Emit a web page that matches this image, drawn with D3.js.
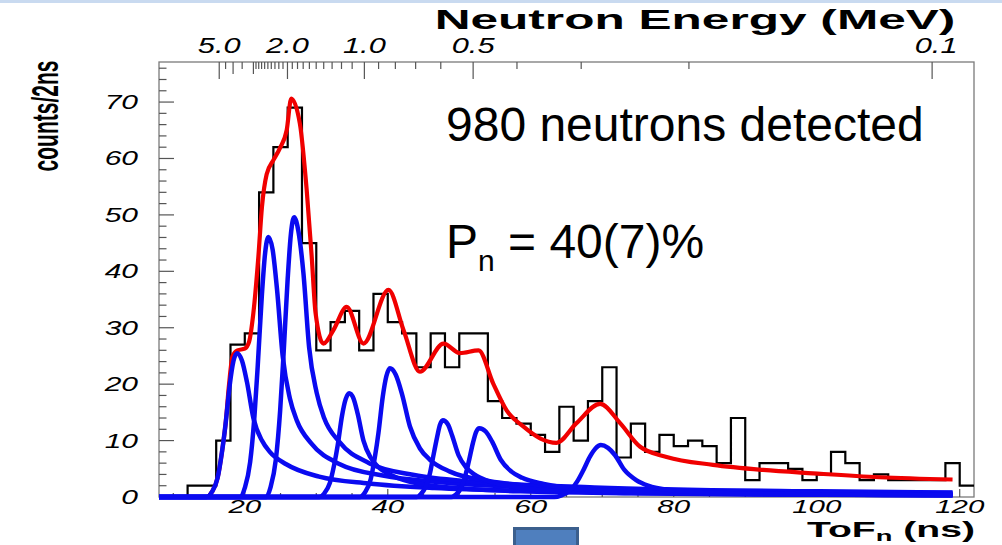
<!DOCTYPE html>
<html><head><meta charset="utf-8">
<script src="https://cdn.jsdelivr.net/npm/d3@7"></script>
<style>html,body{margin:0;padding:0;background:#fff;} svg{display:block;}</style>
</head><body>
<svg id="chart" width="1002" height="545"></svg>
<script>
// ---------------- DATA ----------------
const binLow = 8, binWidth = 2;            // ns, first bin edge and width
const counts = [0,0,2,2,10,27,29,54,62,69,45,26,31,33,26,36,31,29,23,29,23,29,29,17,14,13,11,8,16,10,17,23,7,13,8,11,9,10,9,6,14,3,6,6,5,3,4,8,6,3,4,3,3,3,3,6,2];

// total fit (red), [ToF ns, counts]
const fitTotal = [[8,0],[14.7,0],[15.4,0.9],[16.2,3.4],[16.8,7.9],[17.3,12.8],[17.8,20],[18.3,25],[19,26],[20,26.3],[20.6,27.5],[21.2,32.6],[21.9,42.6],[22.4,51.4],[23.06,57.2],[24.0,59.7],[24.9,61.8],[25.86,65],[26.5,70.6],[27.7,66.2],[28.66,54.4],[29.36,42.6],[29.9,32.6],[31.0,27.2],[32.4,29.6],[34.25,33.7],[36.6,27.2],[40.1,36.7],[42.2,29.6],[44.5,22.2],[47.8,27.2],[50.1,25.5],[52.7,26],[54.75,20.1],[56.6,15.4],[58.95,12.5],[61.3,10.4],[63.6,9.6],[66.4,13.1],[69.7,16.5],[72.5,13.1],[75.3,8.9],[79,7.1],[85.5,5.7],[92.5,4.8],[99.5,4.2],[108.8,3.5],[119,3.1]];

// individual transition components (blue), [ToF ns, counts]
const comp1 = [[8,0],[14.7,0],[15.4,0.9],[16.2,3.4],[16.8,7.9],[17.3,12.8],[17.9,19.9],[18.4,24.0],[18.9,25.5],[19.6,24.2],[20.3,20.4],[21.2,14.0],[22.4,10.0],[23.5,8.0],[25.8,5.8],[30.4,3.6],[37.3,2.4],[46.5,1.6],[64.9,1.0],[99.4,0.6],[119,0.45]];
const comp2 = [[8,0],[19.4,0],[20.0,1.6],[20.75,6.2],[21.35,14.3],[21.8,23],[22.4,36],[22.85,43.3],[23.3,46.1],[23.9,43.8],[24.5,36.9],[25.3,25],[26.3,17.5],[27.3,13.5],[29.3,9.5],[33.3,5.8],[39.3,3.8],[47.3,2.6],[63.3,1.6],[93.3,0.95],[119,0.7]];
const comp3 = [[8,0],[23.0,0],[23.6,1.7],[24.35,6.7],[24.95,15.4],[25.4,24.8],[26.0,38.7],[26.45,46.6],[26.9,49.6],[27.5,47.1],[28.2,39.7],[29.0,26.5],[30.05,18.5],[31.1,14.0],[33.2,9.8],[37.4,6.0],[43.7,3.9],[52.1,2.7],[68.9,1.7],[100.4,1.0],[119,0.8]];
const comp4 = [[8,0],[30.4,0],[31.1,0.6],[31.9,2.5],[32.5,5.7],[33.0,9.2],[33.6,14.4],[34.1,17.3],[34.6,18.4],[35.2,17.5],[35.8,14.7],[36.6,10.0],[37.6,7.0],[38.6,5.4],[40.6,3.8],[44.6,2.3],[50.6,1.5],[58.6,1.0],[74.6,0.65],[104.6,0.38],[119,0.32]];
const comp5 = [[8,0],[36.1,0],[36.8,0.8],[37.6,3.1],[38.2,7.1],[38.7,11.4],[39.3,17.8],[39.8,21.4],[40.3,22.8],[41.1,21.7],[42.0,18.2],[43.1,12.5],[44.5,8.6],[45.9,6.6],[48.7,4.5],[54.3,2.8],[62.7,1.8],[73.9,1.15],[96.3,0.75],[119,0.55]];
const comp6 = [[8,0],[44.1,0],[44.6,0.5],[45.3,1.8],[45.9,4.2],[46.3,6.8],[46.9,10.6],[47.3,12.8],[47.7,13.6],[48.4,12.9],[49.0,10.9],[49.9,7.4],[51.0,5.2],[52.1,4.0],[54.3,2.7],[58.7,1.6],[65.3,1.0],[74.1,0.7],[91.7,0.45],[119,0.3]];
const comp7 = [[8,0],[48.9,0],[49.5,0.4],[50.25,1.6],[50.85,3.8],[51.3,6.1],[51.9,9.5],[52.35,11.5],[52.8,12.2],[53.7,11.6],[54.6,9.8],[55.8,6.6],[57.3,4.5],[58.8,3.4],[61.8,2.3],[67.8,1.3],[76.8,0.85],[88.8,0.58],[112.8,0.38],[119,0.35]];
const comp8 = [[8,0],[63.3,0],[64.3,0.3],[65.55,1.2],[66.55,2.85],[67.3,4.6],[68.3,7.2],[69.05,8.6],[69.8,9.2],[70.8,8.7],[71.8,7.4],[73.1,4.8],[74.75,3.0],[76.4,2.0],[79.7,1.2],[86.3,0.7],[96.2,0.48],[109.4,0.36],[119,0.3]];
const components = [comp1, comp2, comp3, comp4, comp5, comp6, comp7, comp8];

const xMajorTicks = [20, 40, 60, 80, 100, 120];
const xMinorTicks = [10,15,25,30,35,45,50,55,65,70,75,85,90,95,105,110,115];
const yMajorTicks = [0,10,20,30,40,50,60,70];
const yMinorTicks = [2,4,6,8,12,14,16,18,22,24,26,28,32,34,36,38,42,44,46,48,52,54,56,58,62,64,66,68,72,74,76];
const energyLabels = ["5.0","2.0","1.0","0.5","0.1"];
const energyMajor = [5.0, 2.0, 1.0, 0.5, 0.1];       // MeV
const energyMid = [4.0, 3.0];
const energyMinor = [4.5,3.5,2.9,2.8,2.7,2.6,2.5,2.4,2.3,2.2,2.1,1.9,1.8,1.7,1.6,1.5,1.4,1.3,1.2,1.1,0.9,0.8,0.7,0.6,0.4,0.3,0.2];
const flightPath = 0.508;   // m
const texts = {title:"Neutron Energy (MeV)", yTitle:"counts/2ns", xTitle:"ToF", xSub:"n", xUnit:" (ns)",
  line1:"980 neutrons detected", pn:"P", pnSub:"n", pnRest:" = 40(7)%"};

// ---------------- DRAW ----------------
const svg = d3.select("#chart");
const X0 = 159, X1 = 974, Y0 = 497, Y1 = 62;
const x = d3.scaleLinear().domain([8, 122]).range([X0, X1]);
const y = d3.scaleLinear().domain([0, 77.1]).range([Y0, Y1]);
const tofFromE = e => flightPath * Math.sqrt(5227 / e);
const xE = e => x(tofFromE(e));

svg.append("rect").attr("x",0).attr("y",0).attr("width",1002).attr("height",545).attr("fill","#fff");
svg.append("rect").attr("x",0).attr("y",0).attr("width",1002).attr("height",3).attr("fill","#c9daf0");

function rootText(txt, px, py, size, anchor, opts={}) {
  return svg.append("text")
    .attr("transform", `translate(${px},${py}) scale(${opts.sx||1.5},1)`)
    .attr("text-anchor", anchor)
    .attr("font-family", "Liberation Sans, Arial, sans-serif")
    .attr("font-size", size)
    .attr("font-style", opts.italic ? "italic" : "normal")
    .attr("font-weight", opts.bold ? "bold" : "normal")
    .attr("fill", "#000")
    .text(txt);
}

// frame
svg.append("rect").attr("x",X0).attr("y",Y1).attr("width",X1-X0).attr("height",Y0-Y1)
  .attr("fill","none").attr("stroke","#7a7a7a").attr("stroke-width",1.3);

const tickG = svg.append("g").attr("stroke","#555").attr("stroke-width",1.2);
yMajorTicks.forEach(v => tickG.append("line").attr("x1",X0).attr("x2",X0+15).attr("y1",y(v)).attr("y2",y(v)));
yMinorTicks.forEach(v => tickG.append("line").attr("x1",X0).attr("x2",X0+7.5).attr("y1",y(v)).attr("y2",y(v)));
xMajorTicks.forEach(v => tickG.append("line").attr("x1",x(v)).attr("x2",x(v)).attr("y1",Y0).attr("y2",Y0-8));
xMinorTicks.forEach(v => tickG.append("line").attr("x1",x(v)).attr("x2",x(v)).attr("y1",Y0).attr("y2",Y0-4));
energyMajor.forEach(e => tickG.append("line").attr("x1",xE(e)).attr("x2",xE(e)).attr("y1",Y1).attr("y2",Y1+17));
energyMid.forEach(e => tickG.append("line").attr("x1",xE(e)).attr("x2",xE(e)).attr("y1",Y1).attr("y2",Y1+12));
energyMinor.forEach(e => tickG.append("line").attr("x1",xE(e)).attr("x2",xE(e)).attr("y1",Y1).attr("y2",Y1+7));

// labels
yMajorTicks.forEach(v => rootText(String(v), 138, y(v)+7, 20, "end", {italic:true, sx:1.5}));
xMajorTicks.forEach(v => rootText(String(v), x(v), 513, 19, "middle", {italic:true, sx:1.55}));
energyMajor.forEach((e,i) => rootText(energyLabels[i], xE(e) + (e < 0.2 ? 4 : 0), 53, 22, "middle", {italic:true, sx:1.4}));

// titles
rootText(texts.title, 695, 29, 28.5, "middle", {bold:true, sx:1.74});
svg.append("text")
  .attr("transform", "translate(58,116) scale(1.75,1) rotate(-90)")
  .attr("text-anchor","middle").attr("font-family","Liberation Sans, Arial, sans-serif")
  .attr("font-weight","bold").attr("font-size",21).text(texts.yTitle);
const xt = rootText("", 975, 537, 21.5, "end", {bold:true, sx:1.82});
xt.append("tspan").text(texts.xTitle);
xt.append("tspan").attr("font-size",15).attr("dy",4).text(texts.xSub);
xt.append("tspan").attr("dy",-4).text(texts.xUnit);

// histogram
const histPts = counts.map((c,i) => [binLow + i*binWidth, c]);
histPts.push([binLow + counts.length*binWidth, counts[counts.length-1]]);
const stepLine = d3.line().x(d => x(d[0])).y(d => y(d[1])).curve(d3.curveStepAfter);
svg.append("path").attr("d", stepLine(histPts)).attr("fill","none").attr("stroke","#000").attr("stroke-width",2.2);

// curves
const smooth = d3.line().x(d => x(d[0])).y(d => y(d[1])).curve(d3.curveMonotoneX);
svg.append("path").attr("d", smooth(fitTotal)).attr("fill","none").attr("stroke","#f00000").attr("stroke-width",4.2).attr("stroke-linejoin","round");
components.forEach(c => svg.append("path").attr("d", smooth(c)).attr("fill","none").attr("stroke","#0a0af0").attr("stroke-width",4.5).attr("stroke-linejoin","round"));

// annotations
svg.append("text").attr("x",446).attr("y",141).attr("font-family","Liberation Sans, Arial, sans-serif")
  .attr("font-size",48).attr("fill","#000").text(texts.line1);
const pn = svg.append("text").attr("x",446).attr("y",258).attr("font-family","Liberation Sans, Arial, sans-serif")
  .attr("font-size",48).attr("fill","#000");
pn.append("tspan").text(texts.pn);
pn.append("tspan").attr("font-size",30).attr("dy",13).text(texts.pnSub);
pn.append("tspan").attr("dy",-13).text(texts.pnRest);

// small blue box at the bottom
svg.append("rect").attr("x",514.5).attr("y",528.5).attr("width",63).attr("height",20)
  .attr("fill","#4f7fbe").attr("stroke","#3b5f8d").attr("stroke-width",3);
</script>
</body></html>
